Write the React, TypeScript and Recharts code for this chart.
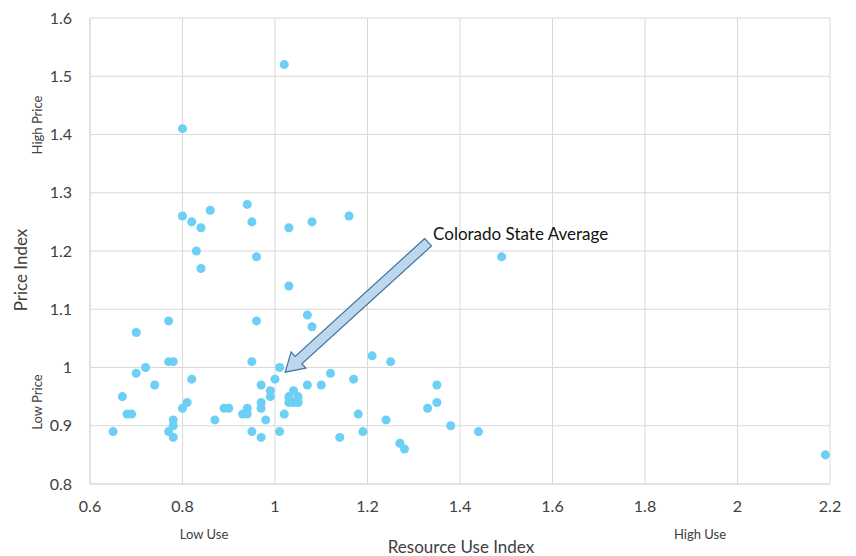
import React from 'react';
import {
  ScatterChart,
  Scatter,
  XAxis,
  YAxis,
  ZAxis,
  CartesianGrid,
  ReferenceLine,
} from 'recharts';

// resource use index per utility
const useIndex = [
  0.65, 0.67, 0.68, 0.69, 0.7, 0.7, 0.72, 0.74, 0.77, 0.77, 0.78, 0.77, 0.78, 0.78, 0.78,
  0.8, 0.8, 0.8, 0.81, 0.82, 0.82, 0.83, 0.84, 0.84, 0.86, 0.87, 0.89, 0.9, 0.93, 0.94,
  0.94, 0.94, 0.95, 0.95, 0.95, 0.96, 0.96, 0.97, 0.97, 0.97, 0.97, 0.98, 0.99, 0.99, 1.0,
  1.01, 1.01, 1.02, 1.02, 1.03, 1.03, 1.03, 1.03, 1.04, 1.04, 1.05, 1.05, 1.07, 1.07, 1.08,
  1.08, 1.1, 1.12, 1.14, 1.16, 1.17, 1.18, 1.19, 1.21, 1.25, 1.24, 1.27, 1.28, 1.33, 1.35,
  1.35, 1.38, 1.44, 1.49, 2.19,
];

// price index per utility
const priceIndex = [
  0.89, 0.95, 0.92, 0.92, 1.06, 0.99, 1.0, 0.97, 1.08, 1.01, 1.01, 0.89, 0.91, 0.9, 0.88,
  1.41, 1.26, 0.93, 0.94, 0.98, 1.25, 1.2, 1.24, 1.17, 1.27, 0.91, 0.93, 0.93, 0.92, 0.93,
  1.28, 0.92, 1.25, 1.01, 0.89, 1.19, 1.08, 0.97, 0.94, 0.93, 0.88, 0.91, 0.96, 0.95, 0.98,
  1.0, 0.89, 0.92, 1.52, 1.24, 1.14, 0.95, 0.94, 0.96, 0.94, 0.95, 0.94, 1.09, 0.97, 1.25,
  1.07, 0.97, 0.99, 0.88, 1.26, 0.98, 0.92, 0.89, 1.02, 1.01, 0.91, 0.87, 0.86, 0.93, 0.97,
  0.94, 0.9, 0.89, 1.19, 0.85,
];

const xTicks = [0.6, 0.8, 1, 1.2, 1.4, 1.6, 1.8, 2, 2.2];
const yTicks = [0.8, 0.9, 1, 1.1, 1.2, 1.3, 1.4, 1.5, 1.6];

// annotation arrow: from label to state average point
const arrowFrom = { x: 1.331, y: 1.215 };
const arrowTo = { x: 1.022, y: 0.992 };
const arrowText = 'Colorado State Average';

const points = useIndex.map((x, i) => ({ x, y: priceIndex[i] }));

const FONT = 'Lato, "Open Sans", sans-serif';
const TEXT = '#404040';
const GRID = '#d9d9d9';

function BlockArrow(props: any) {
  const { x1, y1, x2, y2 } = props;
  const dx = x2 - x1;
  const dy = y2 - y1;
  const len = Math.sqrt(dx * dx + dy * dy);
  const ux = dx / len;
  const uy = dy / len;
  const nx = -uy;
  const ny = ux;
  const head = 18;
  const hw = 11;
  const sw = 5;
  const bx = x2 - ux * head;
  const by = y2 - uy * head;
  const pts = [
    [x1 + nx * sw, y1 + ny * sw],
    [bx + nx * sw, by + ny * sw],
    [bx + nx * hw, by + ny * hw],
    [x2, y2],
    [bx - nx * hw, by - ny * hw],
    [bx - nx * sw, by - ny * sw],
    [x1 - nx * sw, y1 - ny * sw],
  ]
    .map((p) => p.join(','))
    .join(' ');
  return (
    <g>
      <polygon points={pts} fill="#bdd7ee" stroke="#41719c" strokeWidth={1.2} />
      <text
        x={x1 + 5}
        y={y1 - 9}
        fontSize={17}
        fill="#111"
        fontFamily={FONT}
        dominantBaseline="central"
      >
        {arrowText}
      </text>
    </g>
  );
}

function XTitle(props: any) {
  const { viewBox } = props;
  const { x, y } = viewBox;
  return (
    <g fontFamily={FONT} fill={TEXT}>
      <text x={x + 114} y={y + 50} fontSize={13} textAnchor="middle" dominantBaseline="central">
        Low Use
      </text>
      <text x={x + 610} y={y + 50} fontSize={13} textAnchor="middle" dominantBaseline="central">
        High Use
      </text>
      <text x={x + 371} y={y + 62} fontSize={17} textAnchor="middle" dominantBaseline="central">
        Resource Use Index
      </text>
    </g>
  );
}

function YTitle(props: any) {
  const { viewBox } = props;
  const { x, y } = viewBox;
  return (
    <g fontFamily={FONT} fill={TEXT}>
      <text
        transform={`translate(${x + 20},${y + 252}) rotate(-90)`}
        fontSize={17}
        textAnchor="middle"
        dominantBaseline="central"
      >
        Price Index
      </text>
      <text
        transform={`translate(${x + 37},${y + 107}) rotate(-90)`}
        fontSize={13}
        textAnchor="middle"
        dominantBaseline="central"
      >
        High Price
      </text>
      <text
        transform={`translate(${x + 37},${y + 384}) rotate(-90)`}
        fontSize={13}
        textAnchor="middle"
        dominantBaseline="central"
      >
        Low Price
      </text>
    </g>
  );
}

export default function App() {
  return (
    <div style={{ position: 'absolute', left: 0, top: 0, width: 856, height: 556, background: '#fff' }}>
      <ScatterChart width={856} height={556} margin={{ top: 18, right: 26, bottom: 0, left: 0 }}>
        <CartesianGrid stroke={GRID} />
        <XAxis
          type="number"
          dataKey="x"
          domain={[0.6, 2.2]}
          ticks={xTicks}
          height={72}
          stroke={GRID}
          tickLine={false}
          tickSize={0}
          tickMargin={17}
          tick={{ fontSize: 16, fill: TEXT, fontFamily: FONT }}
          label={<XTitle />}
          interval={0}
        />
        <YAxis
          type="number"
          dataKey="y"
          domain={[0.8, 1.6]}
          ticks={yTicks}
          width={90}
          stroke={GRID}
          tickLine={false}
          tickSize={0}
          tickMargin={18}
          tick={{ fontSize: 16, fill: TEXT, fontFamily: FONT }}
          label={<YTitle />}
          interval={0}
        />
        <ZAxis range={[80, 80]} />
        <Scatter data={points} fill="#6ccff6" isAnimationActive={false} />
        <ReferenceLine segment={[arrowFrom, arrowTo]} shape={BlockArrow} ifOverflow="visible" />
      </ScatterChart>
    </div>
  );
}
